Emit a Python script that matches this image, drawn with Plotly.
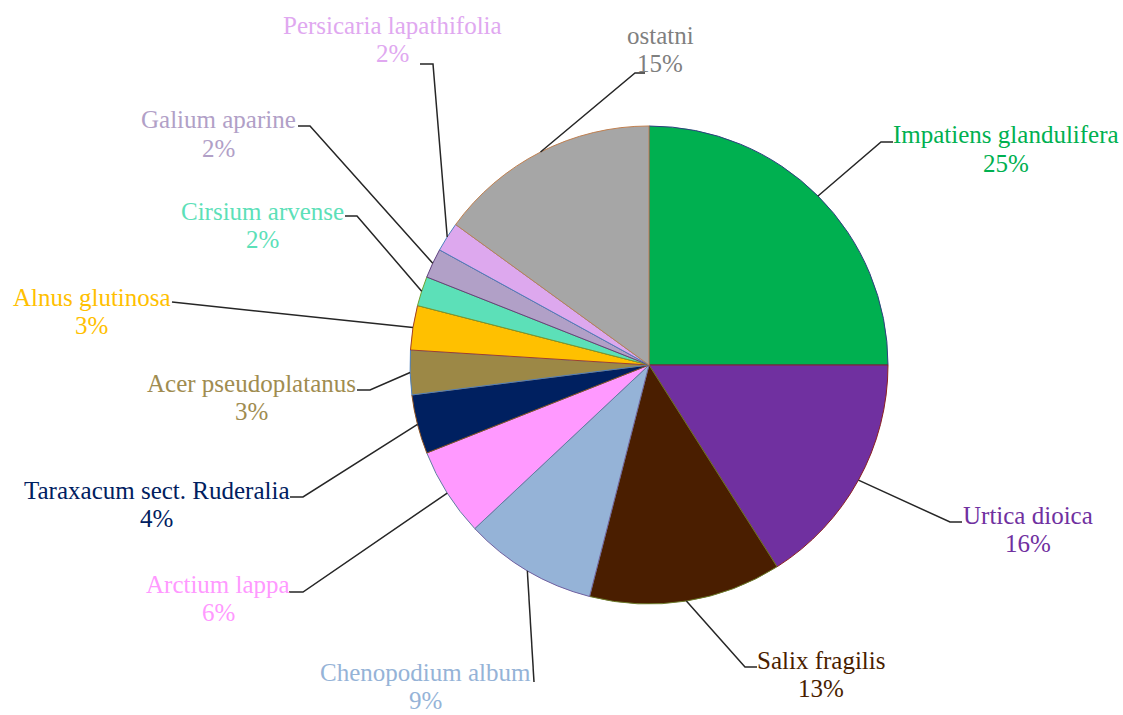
import math
import plotly.graph_objects as go

# ---- data ----
species = ["Impatiens glandulifera", "Urtica dioica", "Salix fragilis", "Chenopodium album",
           "Arctium lappa", "Taraxacum sect. Ruderalia", "Acer pseudoplatanus", "Alnus glutinosa",
           "Cirsium arvense", "Galium aparine", "Persicaria lapathifolia", "ostatni"]
shares = [25, 16, 13, 9, 6, 4, 3, 3, 2, 2, 2, 15]

# ---- styles ----
slice_colors = ["#00B050", "#7030A0", "#4A1E00", "#95B3D7", "#FF99FF", "#002060",
                "#9C8846", "#FFC000", "#5CE0B8", "#B1A0C7", "#DDA8EE", "#A6A6A6"]
border_colors = ["#2F3F7F", "#8B2020", "#6B7A2A", "#7060A0", "#6080A0", "#8B5020",
                 "#4F81BD", "#A0402A", "#70A030", "#604080", "#4F81BD", "#C08050"]
text_colors = ["#00B050", "#7030A0", "#4A1E00", "#95B3D7", "#FF99FF", "#002060",
               "#A08C50", "#FFC000", "#5CE0B8", "#B1A0C7", "#E0A8F0", "#7F7F7F"]

W, H = 1123, 715
CX, CY, R = 649, 365, 239
FONT = "Liberation Serif, Times New Roman, serif"
FS = 25
LINE_GAP = 28

# label layout (pixel positions): name centre x, name centre y, attach x, attach y, elbow x
label_layout = [
    (1006, 135, 893, 142, 881),
    (1028, 515, 962, 522, 950),
    (821, 660, 757, 667, 745),
    (425, 672, 534, 682, 534),
    (218, 584, 289, 592, 303),
    (156, 490, 290, 497, 303),
    (252, 383, 357, 390, 370),
    (92, 297, 172, 302, 172),
    (262, 211, 345, 216, 357),
    (218, 120, 298, 126, 310),
    (392, 25, 420, 64, 433),
    (660, 36, 645, 73, 635),
]

def px(x):
    return x / W

def py(y):
    return 1 - y / H

fig = go.Figure(go.Pie(
    labels=species, values=shares, sort=False, direction="clockwise", rotation=0,
    marker=dict(colors=slice_colors, line=dict(color=border_colors, width=1)),
    textinfo="none", hoverinfo="label+percent",
    domain=dict(x=[px(CX - R), px(CX + R)], y=[py(CY + R), py(CY - R)]),
))

total = sum(shares)
annotations = []
shapes = []
cum = 0
for name, v, tc, (lx, ly, ax, ay, ex) in zip(species, shares, text_colors, label_layout):
    theta = 2 * math.pi * (cum + v / 2) / total
    cum += v
    anc_x = CX + R * math.sin(theta)
    anc_y = CY - R * math.cos(theta)
    pct = f"{round(100 * v / total)}%"
    annotations.append(dict(x=px(lx), y=py(ly), xref="paper", yref="paper", text=name,
                            showarrow=False, xanchor="center", yanchor="middle",
                            font=dict(family=FONT, size=FS, color=tc)))
    annotations.append(dict(x=px(lx), y=py(ly + LINE_GAP), xref="paper", yref="paper", text=pct,
                            showarrow=False, xanchor="center", yanchor="middle",
                            font=dict(family=FONT, size=FS, color=tc)))
    path = f"M {px(ax)} {py(ay)} L {px(ex)} {py(ay)} L {px(anc_x)} {py(anc_y)}"
    shapes.append(dict(type="path", xref="paper", yref="paper", path=path,
                       line=dict(color="#262626", width=1.5)))

fig.update_layout(
    width=W, height=H, margin=dict(l=0, r=0, t=0, b=0),
    paper_bgcolor="white", plot_bgcolor="white", showlegend=False,
    annotations=annotations, shapes=shapes,
)
fig.write_html("out.html", config={"displayModeBar": False},
               post_script="document.body.style.margin='0';")
